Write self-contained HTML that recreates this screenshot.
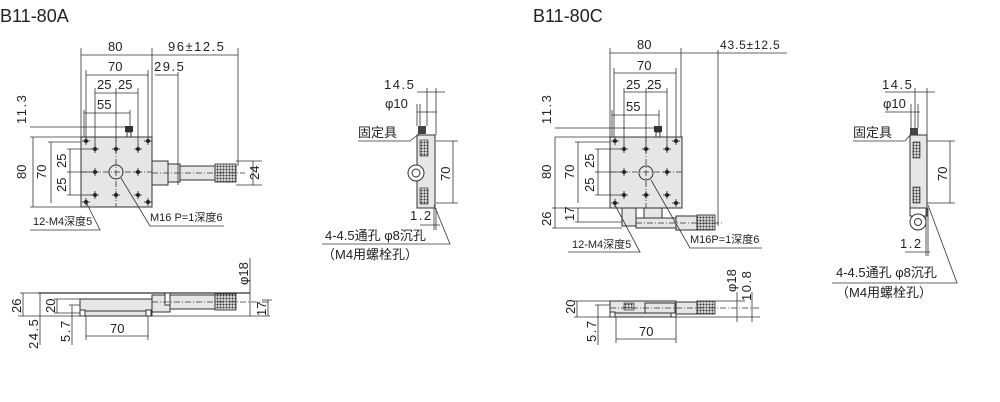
<!DOCTYPE html>
<html><head><meta charset="utf-8"><style>
html,body{margin:0;padding:0;background:#fff;width:1000px;height:402px;overflow:hidden}
svg{display:block}
text{font-family:"Liberation Sans","Noto Sans CJK SC",sans-serif;fill:#222}
.t{font-size:13px}
.w{letter-spacing:1.5px}
.d{stroke:#333;stroke-width:0.8;fill:none}
.b{stroke:#333;stroke-width:1;fill:#e6e6e6}
.h{stroke:#333;stroke-width:1;fill:#fff}
</style></head><body>
<svg width="1000" height="402" viewBox="0 0 1000 402" xmlns="http://www.w3.org/2000/svg">
<defs>
<pattern id="kn" width="3" height="3" patternUnits="userSpaceOnUse"><rect width="3" height="3" fill="#ddd"/><circle cx="1.5" cy="1.5" r="1" fill="#333"/></pattern>
<g id="hole"><line x1="-4" y1="0" x2="4" y2="0" stroke="#222" stroke-width="0.8"/><line x1="0" y1="-4" x2="0" y2="4" stroke="#222" stroke-width="0.8"/><circle r="2" fill="#222"/></g>
</defs>
<text x="0" y="22" style="font-size:18px">B11-80A</text>
<text x="533" y="22" style="font-size:18px">B11-80C</text>

<!-- LEFT TOP VIEW -->
<g>
<rect x="81" y="137" width="71" height="70" class="b"/>
<rect x="152" y="161" width="16" height="24" class="b"/>
<rect x="168" y="164" width="12" height="18" class="b"/>
<rect x="180" y="166" width="35" height="14" class="b"/>
<rect x="215" y="164" width="21" height="18" fill="url(#kn)" stroke="#222" stroke-width="0.8"/>
<rect x="125" y="126" width="8" height="6" fill="#333"/><rect x="127" y="132" width="4" height="5" class="h"/>
<line x1="152" y1="173" x2="245" y2="173" class="d" stroke-dasharray="6,2,1,2"/>
<line x1="81" y1="172" x2="152" y2="172" class="d" stroke-dasharray="6,2,1,2"/>
<line x1="116" y1="137" x2="116" y2="207" class="d" stroke-dasharray="6,2,1,2"/>
<circle cx="116" cy="172" r="7" class="h" style="fill:none"/>
<use href="#hole" x="86" y="141"/><use href="#hole" x="148" y="141"/><use href="#hole" x="86" y="202"/><use href="#hole" x="148" y="202"/>
<use href="#hole" x="95" y="149"/><use href="#hole" x="116" y="149"/><use href="#hole" x="138" y="149"/>
<use href="#hole" x="95" y="172"/><use href="#hole" x="138" y="172"/>
<use href="#hole" x="95" y="195"/><use href="#hole" x="116" y="195"/><use href="#hole" x="138" y="195"/>
<path class="d" d="M81 48V137M152 48V137M238 48V166M178 72V185M86 70V137M148 70V137M95 88V149M116 88V149M138 88V149M84 110V137M130 110V126"/>
<path class="d" d="M81 55H152M152 55H238M86 75H148M155 75H178M95 93H138M84 113H130"/>
<text x="108" y="51" class="t">80</text><text x="168" y="51" class="t w">96±12.5</text>
<text x="108" y="71" class="t">70</text><text x="154" y="71" class="t w">29.5</text>
<text x="97" y="89" class="t">25</text><text x="118" y="89" class="t">25</text>
<text x="97" y="109" class="t">55</text>
<path class="d" d="M30 127H130M30 137H81M33 137V207M30 207H81M51 142V203M48 142H81M70 149V195M67 149H95M67 195H95M67 172H95M253 161V185M236 161H262M236 185H262"/>
<text transform="translate(26,124) rotate(-90)" class="t w">11.3</text>
<text transform="translate(26,179) rotate(-90)" class="t">80</text>
<text transform="translate(46,179) rotate(-90)" class="t">70</text>
<text transform="translate(66,168) rotate(-90)" class="t">25</text>
<text transform="translate(66,192) rotate(-90)" class="t">25</text>
<text transform="translate(259,180) rotate(-90)" class="t">24</text>
<text x="33" y="225" class="t" style="font-size:11px">12-M4深度5</text>
<path class="d" d="M30 230H100L86 202"/>
<text x="150" y="221" class="t" style="font-size:11px">M16 P=1深度6</text>
<path class="d" d="M224 226H150L121 178"/>
</g>

<!-- LEFT SIDE VIEW BOTTOM -->
<g>
<line x1="38" y1="293" x2="250" y2="293" stroke="#333" stroke-width="1.2"/>
<rect x="80" y="299" width="72" height="12" class="b"/>
<rect x="80" y="311" width="72" height="5" class="b"/>
<rect x="80" y="310" width="5" height="6" class="h"/><rect x="146" y="310" width="5" height="6" class="h"/>
<rect x="152" y="295" width="18" height="17" class="b"/>
<rect x="165" y="293" width="5" height="12" class="h"/>
<rect x="170" y="295" width="45" height="14" class="b"/>
<rect x="215" y="294" width="21" height="16" fill="url(#kn)" stroke="#222" stroke-width="0.8"/>
<line x1="152" y1="302" x2="270" y2="302" class="d" stroke-dasharray="6,2,1,2"/>
<path class="d" d="M18 316H270M20 293H38M23 293V316M40 316V345M40 293V316M57 299V313M54 299H80M54 313H80M72 305V345M69 305H80M86 316V340M148 316V340M86 336H148M250 258V316M268 300V316M262 300H272"/>
<text transform="translate(21,313) rotate(-90)" class="t">26</text>
<text transform="translate(38,349) rotate(-90)" class="t w">24.5</text>
<text transform="translate(55,313) rotate(-90)" class="t">20</text>
<text transform="translate(70,342) rotate(-90)" class="t w">5.7</text>
<text x="110" y="333" class="t">70</text>
<text transform="translate(248,285) rotate(-90)" class="t">φ18</text>
<text transform="translate(266,316) rotate(-90)" class="t">17</text>
</g>

<!-- MIDDLE SIDE VIEW -->
<g>
<rect x="417" y="135" width="18" height="73" class="b"/>
<rect x="420" y="140" width="8" height="16" fill="url(#kn)" stroke="#222" stroke-width="0.6"/>
<rect x="420" y="188" width="8" height="16" fill="url(#kn)" stroke="#222" stroke-width="0.6"/>
<circle cx="416" cy="173" r="8" class="h"/><circle cx="416" cy="173" r="4" class="h"/>
<rect x="418" y="126" width="8" height="8" fill="#444"/>
<path class="d" d="M427 88V126M436 88V135M420 104V126M417 104V126M417 92H445M417 112H437M436 141H458M436 203H458M453 141V203M436 208V230M434 208V230M420 225H440"/>
<text x="384" y="89" class="t w">14.5</text>
<text x="385" y="108" class="t">φ10</text>
<text x="358" y="137" class="t">固定具</text>
<path class="d" d="M358 141H410L420 133"/>
<text transform="translate(450,181) rotate(-90)" class="t">70</text>
<text x="410" y="220" class="t w">1.2</text>
<text x="325" y="240" class="t">4-4.5通孔 φ8沉孔</text>
<path class="d" d="M322 244H450L434 205"/>
<text x="322" y="259" class="t">（M4用螺栓孔）</text>
</g>

<!-- RIGHT TOP VIEW -->
<g>
<rect x="610" y="137" width="72" height="71" class="b"/>
<rect x="622" y="208" width="14" height="18" class="b"/>
<rect x="644" y="208" width="18" height="10" class="b"/>
<rect x="636" y="218" width="40" height="10" class="b"/>
<rect x="676" y="216" width="21" height="14" class="b"/>
<rect x="697" y="215" width="18" height="15" fill="url(#kn)" stroke="#222" stroke-width="0.8"/>
<line x1="636" y1="223" x2="722" y2="223" class="d" stroke-dasharray="6,2,1,2"/>
<rect x="654" y="126" width="8" height="6" fill="#333"/><rect x="656" y="132" width="4" height="5" class="h"/>
<path class="d" d="M610 172H682M646 137V208" stroke-dasharray="6,2,1,2"/>
<circle cx="646" cy="173" r="7" fill="none" stroke="#333"/>
<use href="#hole" x="615" y="141"/><use href="#hole" x="676" y="141"/><use href="#hole" x="615" y="203"/><use href="#hole" x="676" y="203"/>
<use href="#hole" x="624" y="149"/><use href="#hole" x="646" y="149"/><use href="#hole" x="667" y="149"/>
<use href="#hole" x="624" y="172"/><use href="#hole" x="667" y="172"/>
<use href="#hole" x="624" y="195"/><use href="#hole" x="646" y="195"/><use href="#hole" x="667" y="195"/>
<path class="d" d="M610 48V137M681 48V137M718 50V226M614 68V137M676 68V137M624 88V149M646 88V149M667 88V149M612 110V137M659 110V126"/>
<path class="d" d="M610 53H681M681 53H787M614 73H676M624 92H667M612 115H659"/>
<text x="637" y="49" class="t">80</text><text x="720" y="49" class="t" style="font-size:12px;letter-spacing:0.8px">43.5±12.5</text>
<text x="637" y="70" class="t">70</text>
<text x="626" y="89" class="t">25</text><text x="647" y="89" class="t">25</text>
<text x="626" y="111" class="t">55</text>
<path class="d" d="M555 128H659M555 137H610M555 137V228M552 208H622M578 142V203M575 142H610M598 149V195M595 149H624M595 195H624M595 172H624M578 208V222M575 222H622M552 228H622"/>
<text transform="translate(551,124) rotate(-90)" class="t w">11.3</text>
<text transform="translate(551,179) rotate(-90)" class="t">80</text>
<text transform="translate(574,179) rotate(-90)" class="t">70</text>
<text transform="translate(594,168) rotate(-90)" class="t">25</text>
<text transform="translate(594,192) rotate(-90)" class="t">25</text>
<text transform="translate(551,226) rotate(-90)" class="t">26</text>
<text transform="translate(574,221) rotate(-90)" class="t">17</text>
<text x="572" y="248" class="t" style="font-size:11px">12-M4深度5</text>
<path class="d" d="M568 252H640L615 205"/>
<text x="690" y="243" class="t" style="font-size:11px">M16P=1深度6</text>
<path class="d" d="M762 248H690L651 180"/>
</g>

<!-- RIGHT SIDE VIEW BOTTOM -->
<g>
<rect x="610" y="301" width="66" height="12" class="b"/>
<rect x="610" y="313" width="66" height="4" class="b"/>
<rect x="610" y="312" width="5" height="5" class="h"/><rect x="671" y="312" width="5" height="5" class="h"/>
<rect x="624" y="303" width="10" height="7" fill="url(#kn)" stroke="#222" stroke-width="0.6"/>
<rect x="645" y="303" width="30" height="10" class="b"/>
<rect x="676" y="302" width="21" height="12" class="b"/>
<rect x="697" y="301" width="18" height="13" fill="url(#kn)" stroke="#222" stroke-width="0.8"/>
<line x1="610" y1="308" x2="760" y2="308" class="d" stroke-dasharray="6,2,1,2"/>
<path class="d" d="M574 301H610M574 317H760M577 301V317M598 305V345M595 305H610M616 317V343M676 317V343M616 339H676M737 292V322M752 292V322M715 301H745"/>
<text transform="translate(575,314) rotate(-90)" class="t">20</text>
<text transform="translate(596,342) rotate(-90)" class="t w">5.7</text>
<text x="639" y="336" class="t">70</text>
<text transform="translate(736,292) rotate(-90)" class="t">φ18</text>
<text transform="translate(751,301) rotate(-90)" class="t w">10.8</text>
</g>

<!-- RIGHT SIDE VIEW -->
<g>
<rect x="910" y="135" width="17" height="73" class="b"/>
<rect x="913" y="142" width="7" height="16" fill="url(#kn)" stroke="#222" stroke-width="0.6"/>
<rect x="913" y="187" width="7" height="16" fill="url(#kn)" stroke="#222" stroke-width="0.6"/>
<rect x="910" y="208" width="17" height="8" class="h"/>
<circle cx="918" cy="222" r="8" class="h"/><circle cx="918" cy="222" r="3.5" class="h"/>
<rect x="910" y="128" width="8" height="7" fill="#444"/>
<path class="d" d="M915 88V128M927 88V135M911 104V128M918 104V128M885 92H935M885 112H920M927 141H955M927 203H955M950 141V203M926 208V256M928 208V256M905 252H930"/>
<text x="882" y="89" class="t w">14.5</text>
<text x="883" y="108" class="t">φ10</text>
<text x="853" y="137" class="t">固定具</text>
<path class="d" d="M853 141H905L912 133"/>
<text transform="translate(947,181) rotate(-90)" class="t">70</text>
<text x="900" y="248" class="t w">1.2</text>
<text x="836" y="277" class="t">4-4.5通孔 φ8沉孔</text>
<path class="d" d="M832 283H957L928 205"/>
<text x="836" y="297" class="t">（M4用螺栓孔）</text>
</g>
</svg>
</body></html>
